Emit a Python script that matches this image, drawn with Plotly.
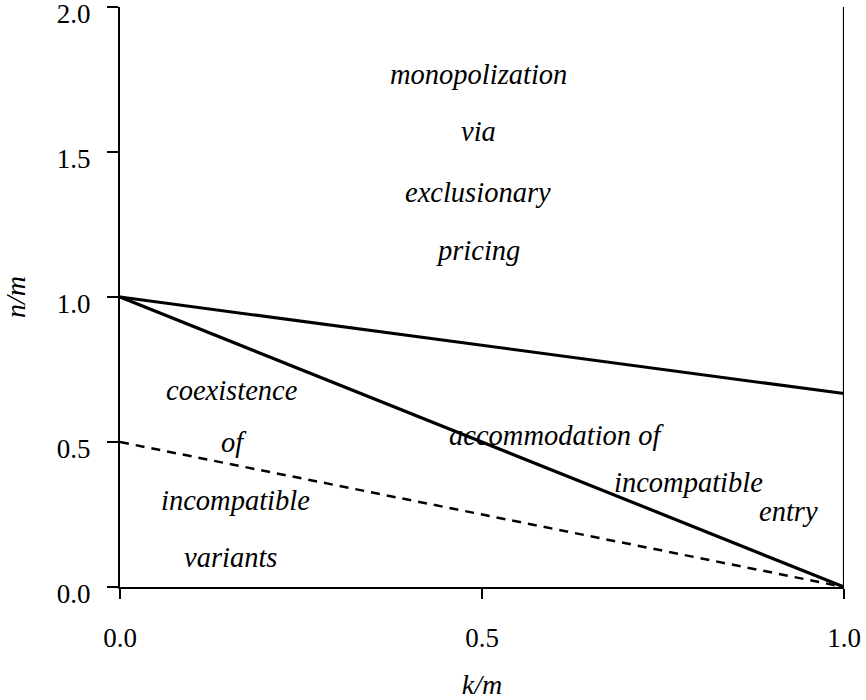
import plotly.graph_objects as go

# Data
k_vals = [0.0, 1.0]
upper_boundary = [1.0, 0.667]      # monopolization boundary
diag_boundary = [1.0, 0.0]         # accommodation / coexistence boundary
dashed_boundary = [0.5, 0.0]       # dashed line
right_x = [1.0, 1.0]
right_y = [0.0, 2.0]

x_ticks = [0.0, 0.5, 1.0]
x_ticktext = ["0.0", "0.5", "1.0"]
y_ticks = [0.0, 0.5, 1.0, 1.5, 2.0]
y_ticktext = ["0.0", "0.5", "1.0", "1.5", "2.0"]

region_labels = ["monopolization", "via", "exclusionary", "pricing",
                 "coexistence", "of", "incompatible", "variants",
                 "accommodation of", "incompatible", "entry"]
label_x = [0.495, 0.495, 0.495, 0.495,
           0.155, 0.157, 0.159, 0.152,
           0.603, 0.785, 0.924]
label_y = [1.766, 1.569, 1.362, 1.162,
           0.676, 0.497, 0.300, 0.103,
           0.521, 0.359, 0.259]

FONT = "Liberation Serif, Times New Roman, serif"

fig = go.Figure()
fig.add_trace(go.Scatter(x=k_vals, y=upper_boundary, mode="lines",
                         line=dict(color="black", width=3), cliponaxis=False,
                         showlegend=False, hoverinfo="skip"))
fig.add_trace(go.Scatter(x=k_vals, y=diag_boundary, mode="lines",
                         line=dict(color="black", width=3.2), cliponaxis=False,
                         showlegend=False, hoverinfo="skip"))
fig.add_trace(go.Scatter(x=k_vals, y=dashed_boundary, mode="lines",
                         line=dict(color="black", width=2.5, dash="9px,7px"),
                         cliponaxis=False, showlegend=False, hoverinfo="skip"))
fig.add_trace(go.Scatter(x=right_x, y=right_y, mode="lines",
                         line=dict(color="black", width=2.2), cliponaxis=False,
                         showlegend=False, hoverinfo="skip"))

for txt, xx, yy in zip(region_labels, label_x, label_y):
    fig.add_annotation(x=xx, y=yy, text="<i>" + txt + "</i>", showarrow=False,
                       font=dict(family=FONT, size=28.5, color="black"),
                       xanchor="center", yanchor="middle")

fig.update_layout(
    width=866, height=700,
    margin=dict(l=120, r=22, t=7, b=113),
    paper_bgcolor="white", plot_bgcolor="white",
    font=dict(family=FONT, size=27, color="black"),
    xaxis=dict(range=[0, 1], tickvals=x_ticks, ticktext=x_ticktext,
               showgrid=False, zeroline=False, showline=True,
               linecolor="black", linewidth=2.2, ticks="outside", ticklen=10,
               tickwidth=2, tickcolor="black", ticklabelstandoff=15,
               automargin=False, ticklabeloverflow="allow",
               title=dict(text="<i>k/m</i>", font=dict(family=FONT, size=28),
                          standoff=23)),
    yaxis=dict(range=[0, 2], tickvals=y_ticks, ticktext=y_ticktext,
               showgrid=False, zeroline=False, showline=True,
               linecolor="black", linewidth=2.2, ticks="outside", ticklen=11,
               tickwidth=2, tickcolor="black", ticklabelstandoff=11,
               ticklabelshift=7,
               automargin=False, ticklabeloverflow="allow",
               title=dict(text="<i>n/m</i>", font=dict(family=FONT, size=28),
                          standoff=30)),
)

fig.write_html("out.html", config={"displayModeBar": False},
               post_script="document.body.style.margin='0';document.body.style.overflow='hidden';")
